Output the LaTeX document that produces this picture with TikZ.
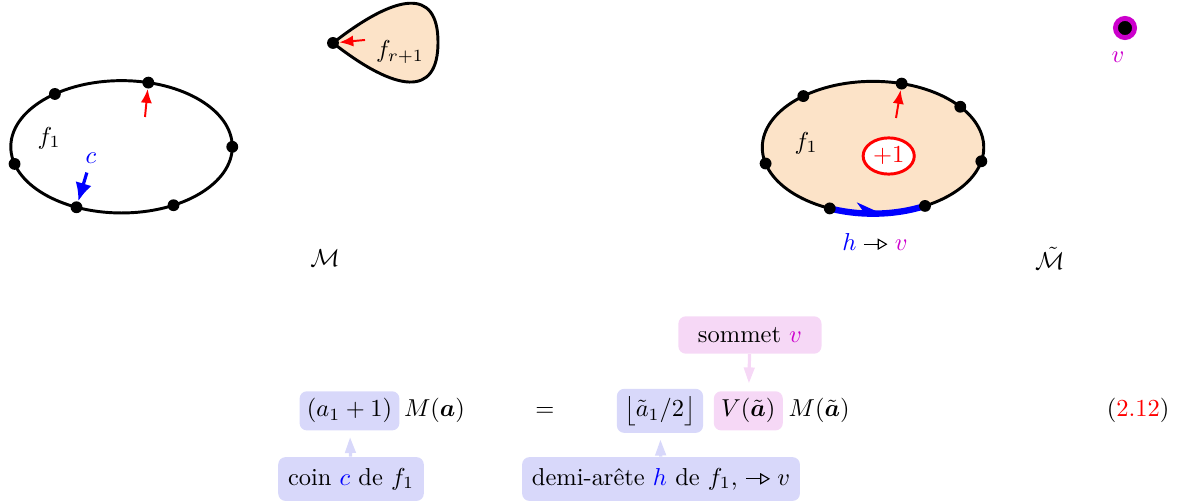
\documentclass[tikz,border=0pt]{standalone}
\usepackage{fontspec}
\usepackage{amsmath}
\usetikzlibrary{positioning,arrows.meta,decorations.markings,shapes.geometric}
\definecolor{peach}{RGB}{252,227,200}
\definecolor{vcol}{RGB}{204,0,204}
\definecolor{cblue}{RGB}{216,216,250}
\definecolor{cpink}{RGB}{246,216,246}
\newcommand{\tovert}{\mathrel{\tikz[baseline=-0.6ex]\draw[line width=0.45pt,-{Triangle[open,length=4pt,width=4.6pt]}] (0,0) -- (0.34,0);}}

\begin{document}
\begin{tikzpicture}[
  face/.style={draw,line width=1.2pt},
  dot/.style={circle,fill=black,inner sep=0pt,minimum size=0.17cm},
  redarr/.style={red,thick,-{Latex[length=2mm,width=1.6mm]}},
  bluearr/.style={blue,line width=1.3pt,-{Latex[length=2.6mm,width=2.4mm]}},
  bbox/.style={fill=cblue,rounded corners=3pt,inner sep=3pt},
  pbox/.style={fill=cpink,rounded corners=3pt,inner sep=3pt},
  tbox/.style={inner xsep=4pt,inner ysep=4.5pt},
  barr/.style={cblue,line width=1.3pt,-{Triangle[length=2.3mm,width=1.5mm]},shorten >=2.5pt},
  parr/.style={cpink,line width=1.3pt,-{Triangle[length=2.3mm,width=1.5mm]},shorten >=3pt}
]
\useasboundingbox (0,0) rectangle (17,7.208);

\def\rx{1.59}
\def\ry{0.95}

% carte M
\coordinate (Lc) at (1.745,5.10);
\draw[face] (Lc) ellipse [x radius=\rx, y radius=\ry];
\foreach \a [count=\i] in {127,76,0,-62,-114,195}
	\node[dot] (L\i) at ([shift={(\a:\rx cm and \ry cm)}]Lc) {};
\node (fl) at (0.704,5.227) {$f_1$};
\node[blue] (cl) at (1.307,4.93) {$c$};
\draw[bluearr] (cl) -- (L5);
\coordinate (rl) at (2.082,5.528);
\draw[redarr] (rl) -- (L2);

\coordinate (T) at (4.781,6.591);
\draw[face,fill=peach] (T) .. controls +(38:1.15) and +(90:0.8) .. (6.289,6.60)
	.. controls +(-90:0.8) and +(-38:1.15) .. (T);
\node[dot] (Td) at (T) {};
\node (fr) at (5.743,6.461) {$f_{r+1}$};
\coordinate (rt) at (5.241,6.634);
\draw[redarr] (rt) -- (Td);

\node (M) at (4.666,3.504) {$\mathcal{M}$};

% carte M tilde
\coordinate (Rc) at (12.535,5.09);
\draw[face,fill=peach] (Rc) ellipse [x radius=\rx, y radius=\ry];
\draw[blue,line width=2.6pt,postaction={decorate},
	decoration={markings,mark=at position 0.58 with {\arrow[blue]{Stealth[harpoon,length=3.4mm,width=3.6mm]}}}]
	([shift={(-113:\rx cm and \ry cm)}]Rc) arc[start angle=-113, end angle=-62, x radius=\rx, y radius=\ry];
\foreach \a [count=\i] in {129,75,38,-12,-62,-113,-166}
	\node[dot] (R\i) at ([shift={(\a:\rx cm and \ry cm)}]Rc) {};
\node (fr1) at (11.573,5.155) {$f_1$};
\node[ellipse,draw=red,line width=1.2pt,fill=white,text=red,inner sep=1pt,
	minimum width=0.66cm,minimum height=0.52cm] (p1) at (12.760,4.968) {$+1$};
\coordinate (rr) at (12.865,5.514);
\draw[redarr] (rr) -- (R2);
\node (hv) at (12.563,3.733) {${\color{blue}h}\tovert{\color{vcol}v}$};

\node[circle,fill=black,draw=vcol,line width=2pt,minimum size=0.275cm,inner sep=0pt] (vv) at (16.153,6.806) {};
\node[vcol] (vl) at (16.052,6.38) {$v$};

\node (Mt) at (15.075,3.504) {$\tilde{\mathcal{M}}$};

% formule
\def\yb{1.221}
\node[bbox,anchor=base] (af) at (5.018,\yb) {$(a_1+1)$};
\node[base right=1.5pt of af,inner sep=0pt] (Ma) {$M(\boldsymbol{a})$};
\node[anchor=base] (eq) at (7.825,\yb) {$=$};
\node[bbox,anchor=base] (fa) at (9.476,\yb) {$\big\lfloor\tilde{a}_1/2\big\rfloor$};
\node[pbox,base right=4pt of fa] (Va) {$V(\tilde{\boldsymbol{a}})$};
\node[base right=2pt of Va,inner sep=0pt] (Mta) {$M(\tilde{\boldsymbol{a}})$};
\node[anchor=base] (num) at (16.34,\yb) {({\color{red}2.12})};

\node[pbox,tbox,inner xsep=8pt] (som) at (10.768,2.398) {sommet ${\color{vcol}v}$};
\draw[parr] (som) -- (Va);
\node[bbox,tbox] (coin) at (5.040,0.330) {coin ${\color{blue}c}$ de $f_1$};
\draw[barr] (coin) -- (af);
\node[bbox,tbox] (demi) at (9.491,0.330) {demi-arête ${\color{blue}h}$ de $f_1$, $\tovert v$};
\draw[barr] (demi) -- (fa);

\end{tikzpicture}
\end{document}
